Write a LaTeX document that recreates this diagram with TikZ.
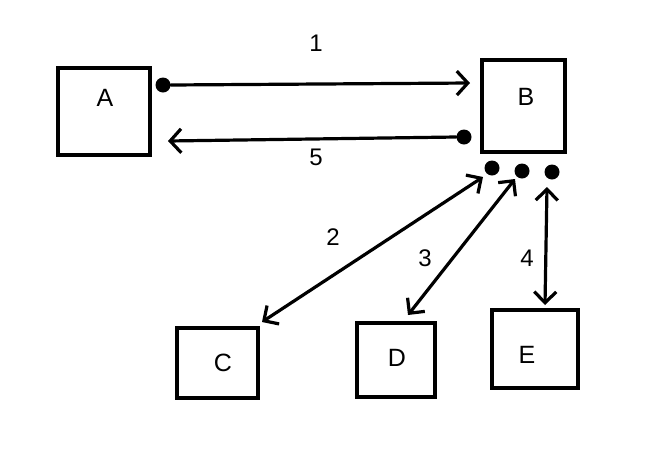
\documentclass[tikz,border=0pt]{standalone}
\usepackage{fontspec}
\setmainfont{Liberation Sans}
\usetikzlibrary{arrows.meta}
\begin{document}
\begin{tikzpicture}[x=1pt,y=-1pt,
  box/.style={draw=black,line width=4pt,fill=white,minimum width=#1,inner sep=0pt},
  lbl/.style={font=\fontsize{25}{25}\selectfont,inner sep=0pt},
  num/.style={font=\fontsize{24}{24}\selectfont,inner sep=0pt},
  dot/.style={circle,fill=black,minimum size=15pt,inner sep=0pt},
  arr/.style={line width=3.2pt,line cap=round,line join=round},
  hb/.tip={Straight Barb[length=11pt,width=22pt]},
  hbw/.tip={Straight Barb[length=11pt,width=24pt]}]
\fill[white] (0,0) rectangle (670,448);
\useasboundingbox (0,0) rectangle (670,448);
% boxes
\node[box=92pt,minimum height=87pt] (A) at (104,111.5) {};
\node[box=83pt,minimum height=92pt] (B) at (523.5,106) {};
\node[box=81pt,minimum height=70pt] (C) at (217.5,363) {};
\node[box=78pt,minimum height=74pt] (D) at (396,360) {};
\node[box=86pt,minimum height=78pt] (E) at (535,349) {};
\node[lbl] (Al) at (105,98) {A};
\node[lbl] (Bl) at (526,97) {B};
\node[lbl] (Cl) at (223,363) {C};
\node[lbl] (Dl) at (397,358) {D};
\node[lbl] (El) at (527,355) {E};
% dots
\node[dot] (d1) at (163,85) {};
\node[dot] (d5) at (464,137) {};
\node[dot] (d2) at (492,168) {};
\node[dot] (d3) at (522,171) {};
\node[dot] (d4) at (552,172) {};
% tip coordinates
\coordinate (t1) at (470,83);
\coordinate (t5) at (168,141);
\coordinate (t2a) at (483,177);
\coordinate (t2b) at (262,322);
\coordinate (t3a) at (515,179);
\coordinate (t3b) at (408,315);
\coordinate (t4a) at (547,187);
\coordinate (t4b) at (545,305);
% connectors
\draw[arr,-hbw] (d1.east) -- (t1);
\draw[arr,-hbw] (d5.west) -- (t5);
\draw[arr,hb-hb] (t2a) -- (t2b);
\draw[arr,hb-hb] (t3a) -- (t3b);
\draw[arr,hb-hb] (t4a) -- (t4b);
% labels
\node[num] (n1) at (316,43) {1};
\node[num] (n5) at (316,157) {5};
\node[num] (n2) at (333,237) {2};
\node[num] (n3) at (425,258) {3};
\node[num] (n4) at (527,258) {4};
\end{tikzpicture}
\end{document}
